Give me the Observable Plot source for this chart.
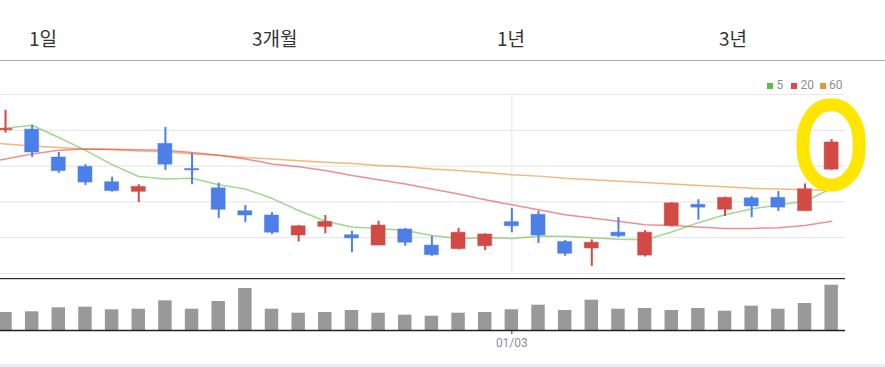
<!DOCTYPE html>
<html><head><meta charset="utf-8">
<script src="https://cdn.jsdelivr.net/npm/d3@7"></script>
<script src="https://cdn.jsdelivr.net/npm/@observablehq/plot@0.6"></script>
<style>
html,body{margin:0;padding:0;background:#fff}
body{width:885px;height:367px;overflow:hidden;position:relative;font-family:"Noto Sans CJK KR",sans-serif}
#header{position:absolute;left:0;top:0;width:885px;height:60px;border-bottom:1px solid #ababab}
.tab{position:absolute;top:28px;font-size:19px;line-height:19px;color:#333;white-space:nowrap}
#price{position:absolute;left:0;top:61px}
#divider{position:absolute;left:0;top:278px;width:845px;height:0;border-top:1px solid #2a2a2a;border-bottom:1px solid #d4d4d4}
#volume{position:absolute;left:0;top:280px}
#band{position:absolute;left:0;top:364px;width:885px;height:3px;background:#eeeef4}
.lg{position:absolute;top:82.5px;width:6px;height:6px}
.lt{position:absolute;top:78.5px;font-family:Roboto,sans-serif;font-size:12px;line-height:12px;color:#8f8f8f}
</style>
</head><body>
<div id="header"></div>
<div id="price"></div>
<div id="divider"></div>
<div id="volume"></div>
<div id="band"></div>
<div id="legend"></div>
<script>
// ---- data ----
const tabs = ["1일", "3개월", "1년", "3년"];
const legendLabels = ["5", "20", "60"];
const opens  = [1050,1051,1012,999,977.5,964,1031,996,969,937,931,903,915,903.5,889,911.5,889,884,888,921.7,932,894,885,907,875,916.6,946,939,955,955.7,937,995];
const closes = [1052,1019,993,977,965,971,1002,994,939,931,907,916,922,899,917,893,875.6,907,904.5,916,903,877.5,893,902,907,948,942,955.7,943.6,942,967.7,1033];
const highs  = [1078,1057,1019,1002,984.5,974,1054,1018,976,945,935,917,931,909,923,913,902,913,905.5,941,937,896,897,928,910,949,953,956.6,957.5,964.5,975,1037];
const lows   = [1046,1012,990,973,963.6,949,994,974,927,921,904.5,894,905.5,879,889,888,874,883,882,907,892,874,860,900,873,915,924.5,929.6,928,936.6,937,994];
// moving averages, starting one period before the first visible candle
const maStart = -1;
const ma5  = [1049,1053,1057,1040,1022,1002,985.5,982,983,974,968,955,938,923,915,913,910,903,899,900,899,902,902,900,898,897,908,921,932,940,946,950.6,969];
const ma20 = [1003,1010,1017,1022,1024,1023.6,1023,1022,1019,1015,1010,1003,999,994,987,981,975,968,961,953,946,939,932,927.5,923,918,917,915,913,913,914,917,923];
const ma60 = [1033,1031,1028,1026,1024,1023,1021,1020,1017,1015,1012,1010,1007.5,1005.5,1003.6,1001,999,996,994,991,988,986,983,981,979,977,975,973,971,969,968,967,966];
const volumes = [18000,18700,22700,23300,20700,21300,29700,21300,29000,42000,21300,17300,18000,20000,17300,15300,14300,17300,18000,20700,25300,20000,30300,21300,22000,20000,22000,19300,24300,21300,27000,45300];
const priceGrid = [850,900,950,1000,1050,1100];
const xTickIndex = [19];
const xTickLabels = ["01/03"];
const highlight = {i: 31, low: 973, high: 1085};

// ---- styles ----
const RED = "#d24a43", BLUE = "#4c7fe8";
const maColors = ["#5fbf42", "#e04848", "#e8943a"];
const tabLeft = [29, 252, 497, 719];

const header = document.getElementById("header");
tabs.forEach((t, k) => {
  const el = document.createElement("div");
  el.className = "tab"; el.textContent = t; el.style.left = tabLeft[k] + "px";
  header.appendChild(el);
});
const legend = document.getElementById("legend");
const lgSq = [767, 791, 819.5], lgTx = [776.5, 800.5, 829];
legendLabels.forEach((t, k) => {
  const s = document.createElement("div"); s.className = "lg"; s.style.left = lgSq[k] + "px"; s.style.background = maColors[k];
  const x = document.createElement("div"); x.className = "lt"; x.style.left = lgTx[k] + "px"; x.textContent = t;
  legend.appendChild(s); legend.appendChild(x);
});

const candles = opens.map((o, i) => ({i, open: o, close: closes[i], high: highs[i], low: lows[i]}));
const up = candles.filter(d => d.close >= d.open);
const down = candles.filter(d => d.close < d.open);
const maSeries = (arr) => arr.map((v, k) => ({i: k + maStart, v}));
const vol = volumes.map((v, i) => ({i, v}));

const xScale = {type: "linear", domain: [-0.1876, 31.52]};
const bodyInset = 6.3;

const price = Plot.plot({
  width: 885, height: 217,
  marginLeft: 0, marginRight: 40, marginTop: 33, marginBottom: 5,
  x: {...xScale, axis: null},
  y: {domain: [850, 1100], axis: null},
  marks: [
    Plot.ruleY(priceGrid, {stroke: "#e9e9e9", strokeWidth: 1.2}),
    Plot.ruleX(xTickIndex, {y1: 850, y2: 1100, stroke: "#e9e9e9", strokeWidth: 1.2}),
    Plot.line(maSeries(ma60), {x: "i", y: "v", stroke: maColors[2], strokeWidth: 1.5, strokeOpacity: 0.65, clip: true}),
    Plot.line(maSeries(ma20), {x: "i", y: "v", stroke: maColors[1], strokeWidth: 1.5, strokeOpacity: 0.6, clip: true}),
    Plot.line(maSeries(ma5), {x: "i", y: "v", stroke: maColors[0], strokeWidth: 1.5, strokeOpacity: 0.6, clip: true}),
    Plot.ruleX(up, {x: "i", y1: "low", y2: "high", stroke: RED, strokeWidth: 2}),
    Plot.ruleX(down, {x: "i", y1: "low", y2: "high", stroke: BLUE, strokeWidth: 2}),
    Plot.rect(up, {x1: d => d.i - 0.5, x2: d => d.i + 0.5, y1: "open", y2: "close", fill: RED, stroke: RED, strokeOpacity: 0.45, strokeWidth: 1, insetLeft: bodyInset, insetRight: bodyInset}),
    Plot.rect(down, {x1: d => d.i - 0.5, x2: d => d.i + 0.5, y1: "open", y2: "close", fill: BLUE, stroke: BLUE, strokeOpacity: 0.45, strokeWidth: 1, insetLeft: bodyInset, insetRight: bodyInset}),
    Plot.rect([highlight], {x1: d => d.i - 1.05, x2: d => d.i + 1.05, y1: "low", y2: "high", fill: "none", stroke: "#ffe600", strokeWidth: 13, rx: 27, ry: 36})
  ]
});
document.getElementById("price").appendChild(price);

const volume = Plot.plot({
  width: 885, height: 84,
  marginLeft: 0, marginRight: 40, marginTop: 0, marginBottom: 34,
  style: {fontFamily: "Roboto, sans-serif", fontSize: "12px"},
  x: xScale,
  y: {domain: [0, 50000], axis: null},
  marks: [
    Plot.rect(vol, {x1: d => d.i - 0.5, x2: d => d.i + 0.5, y1: 0, y2: "v", fill: "#999", insetLeft: 6.6, insetRight: 6.6}),
    Plot.ruleY([0], {stroke: "#222", strokeWidth: 1.3}),
    Plot.axisX({ticks: xTickIndex, tickSize: 4, tickFormat: () => "", color: "#333"}),
    Plot.axisX({ticks: xTickIndex, tickSize: 0, tickPadding: 8, fontSize: 12, color: "#8a8f99",
      tickFormat: d => xTickLabels[xTickIndex.indexOf(d)]})
  ]
});
document.getElementById("volume").appendChild(volume);
</script>
</body></html>
